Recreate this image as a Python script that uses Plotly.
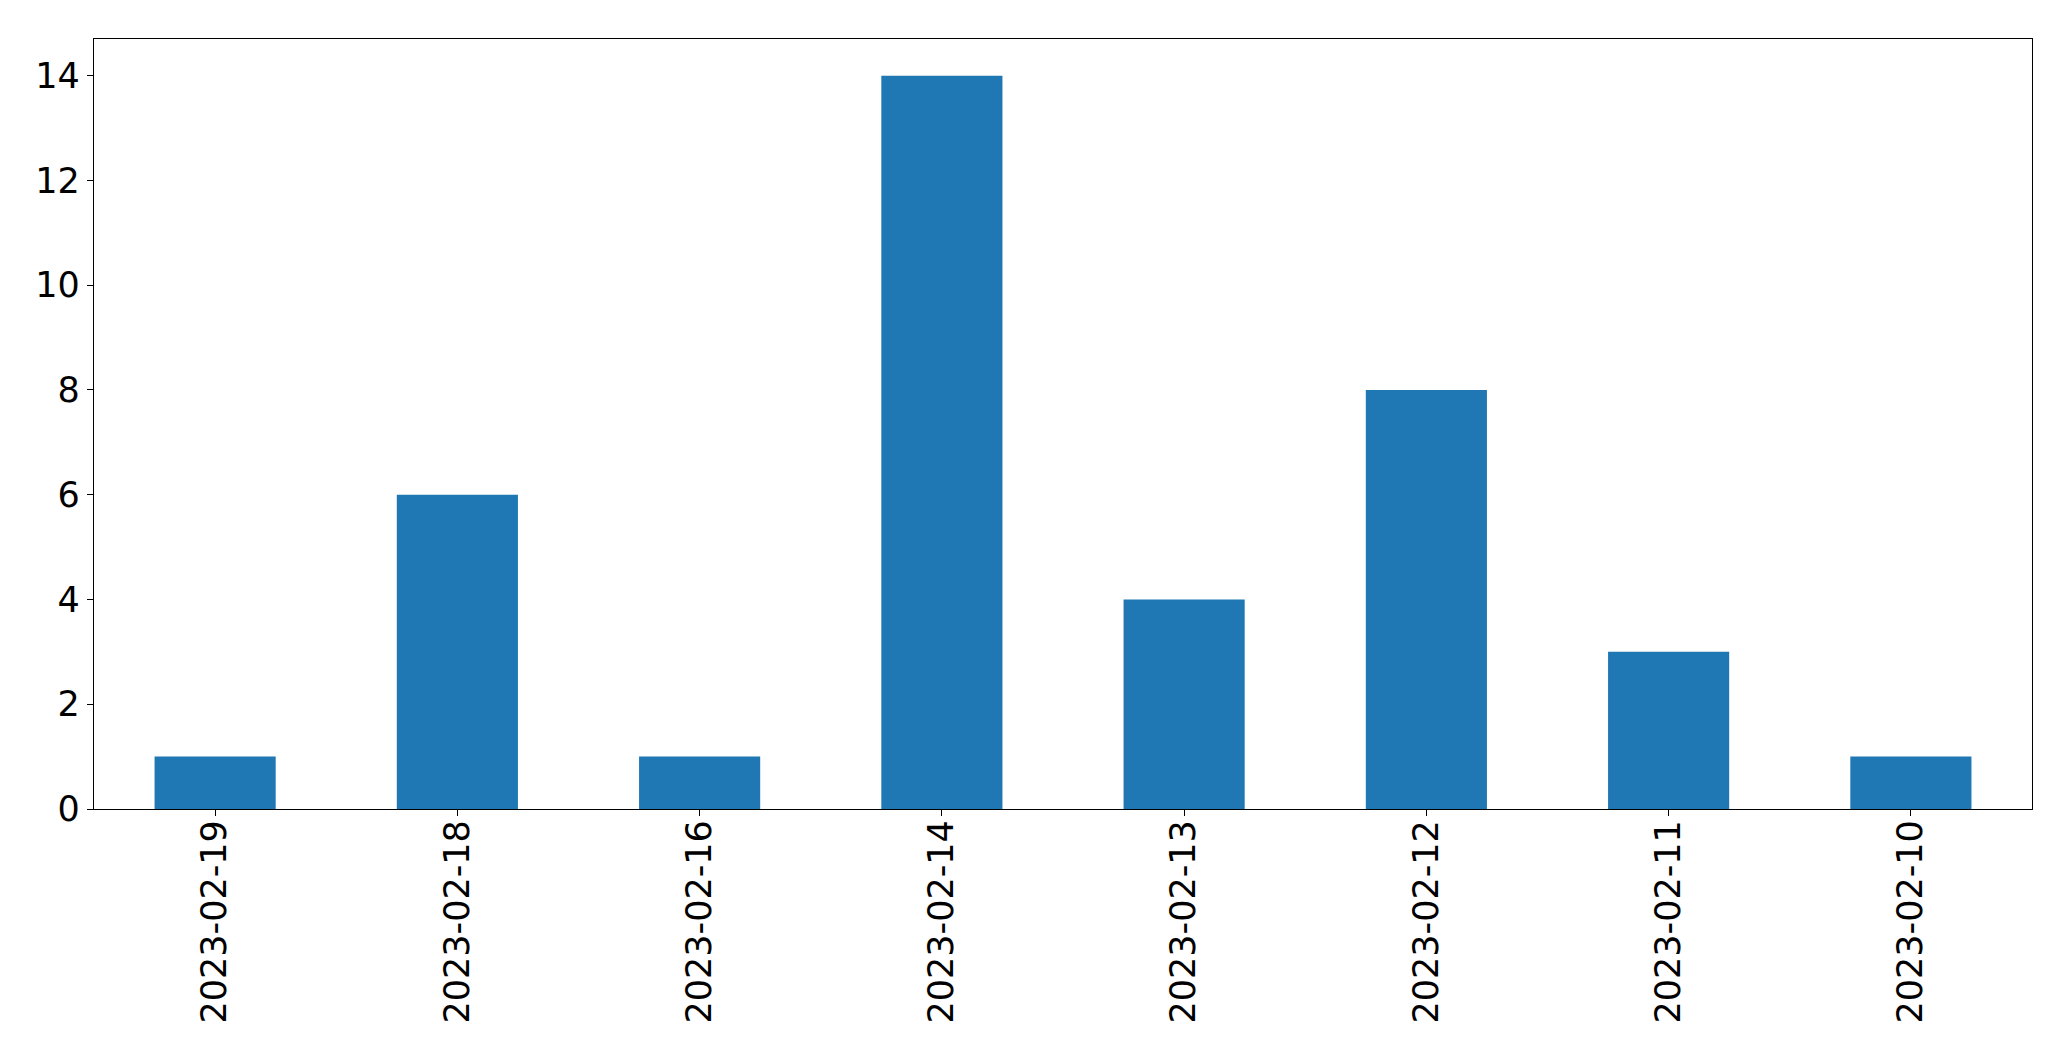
import plotly.graph_objects as go

dates = ["2023-02-19", "2023-02-18", "2023-02-16", "2023-02-14",
         "2023-02-13", "2023-02-12", "2023-02-11", "2023-02-10"]
counts = [1, 6, 1, 14, 4, 8, 3, 1]
y_ticks = [0, 2, 4, 6, 8, 10, 12, 14]

fig = go.Figure(go.Bar(x=dates, y=counts, marker_color="#1f77b4",
                       marker_line_width=0, width=0.5))

font = dict(family="DejaVu Sans", size=35, color="black")
fig.update_layout(
    width=2071, height=1061,
    margin=dict(l=86, r=47, t=31, b=260, autoexpand=False),
    plot_bgcolor="white", paper_bgcolor="white",
    showlegend=False, font=font,
)
fig.update_xaxes(type="category", range=[-0.5, 7.5], tickangle=-90,
                 showline=True, linecolor="black", linewidth=1.3, mirror=True,
                 ticks="outside", ticklen=6, tickcolor="black", tickwidth=1.3,
                 showgrid=False, tickfont=font, automargin=False,
                 ticklabelstandoff=-10)
fig.update_yaxes(range=[0, 14.7], tickvals=y_ticks,
                 showline=True, linecolor="black", linewidth=1.3, mirror=True,
                 ticks="outside", ticklen=6, tickcolor="black", tickwidth=1.3,
                 showgrid=False, zeroline=False, tickfont=font, automargin=False)

fig.write_html("out.html")
